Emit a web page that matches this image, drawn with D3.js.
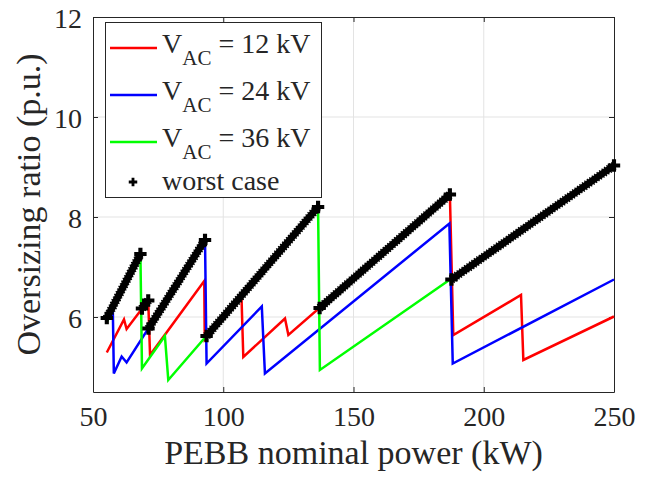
<!DOCTYPE html>
<html>
<head>
<meta charset="utf-8">
<script src="https://cdn.jsdelivr.net/npm/d3@7"></script>
<style>
  body { margin: 0; background: #fff; }
  svg text { font-family: "Liberation Serif", "Times New Roman", serif !important; fill: #262626; }
</style>
</head>
<body>
<div id="chart"></div>
<script>
// oversizing ratio vs PEBB power
const p12 = [55.3, 61.9, 62.9, 71.2, 71.9, 92.7, 92.9, 107.0, 107.7, 123.7, 125.0, 187.0, 188.3, 214.3, 215.2, 250];
const r12 = [5.29, 5.95, 5.76, 6.33, 5.24, 6.72, 5.55, 6.40, 5.20, 5.97, 5.64, 8.45, 5.64, 6.44, 5.14, 6.01];

const p24 = [55.3, 57.6, 58.0, 61.0, 62.9, 93.0, 93.6, 114.8, 116.0, 186.8, 188.1, 250];
const r24 = [5.98, 6.18, 4.87, 5.21, 5.09, 7.54, 5.07, 6.21, 4.87, 7.87, 5.07, 6.75];

const p36 = [55.3, 68.2, 68.8, 77.6, 78.9, 136.4, 137.1, 250];
const r36 = [5.90, 7.26, 4.97, 5.62, 4.74, 8.20, 4.94, 9.03];

// worst case (max of the three), one pair of end points per segment
const worstStart = [55.3, 68.8, 71.3, 93.6, 137.0, 187.6];
const worstStartVal = [5.98, 6.17, 5.77, 5.62, 6.18, 6.75];
const worstEnd = [68.2, 71.2, 93.0, 136.4, 187.0, 250];
const worstEndVal = [7.26, 6.33, 7.54, 8.20, 8.45, 9.03];

const xTicks = [50, 100, 150, 200, 250];
const yTicks = [6, 8, 10, 12];
const legendLabels = ["12 kV", "24 kV", "36 kV"];
const colors = ["#ff0000", "#0000ff", "#00ff00"];

const width = 654, height = 483;
const mLeft = 93, mRight = 614, mTop = 17, mBottom = 392;
const serif = "'Liberation Serif', 'Times New Roman', serif";

const svg = d3.select("#chart").append("svg")
  .attr("width", width)
  .attr("height", height);

const x = d3.scaleLinear().domain([50, 250]).range([mLeft, mRight]);
const y = d3.scaleLinear().domain([4.5, 12]).range([mBottom, mTop]);

// grid
svg.append("g").selectAll("line")
  .data(xTicks.slice(1, -1))
  .join("line")
  .attr("x1", d => x(d)).attr("x2", d => x(d))
  .attr("y1", mTop).attr("y2", mBottom)
  .attr("stroke", "#e3e3e3").attr("stroke-width", 1);
svg.append("g").selectAll("line")
  .data(yTicks.slice(0, -1))
  .join("line")
  .attr("x1", mLeft).attr("x2", mRight)
  .attr("y1", d => y(d)).attr("y2", d => y(d))
  .attr("stroke", "#e3e3e3").attr("stroke-width", 1);

// axes (box with inward ticks)
const axB = svg.append("g").attr("transform", `translate(0,${mBottom})`)
  .call(d3.axisBottom(x).tickValues(xTicks).tickSizeInner(-5).tickSizeOuter(0).tickPadding(14));
const axT = svg.append("g").attr("transform", `translate(0,${mTop})`)
  .call(d3.axisTop(x).tickValues(xTicks).tickSizeInner(-5).tickSizeOuter(0).tickFormat(""));
const axL = svg.append("g").attr("transform", `translate(${mLeft},0)`)
  .call(d3.axisLeft(y).tickValues(yTicks).tickSizeInner(-5).tickSizeOuter(0).tickPadding(11));
const axR = svg.append("g").attr("transform", `translate(${mRight},0)`)
  .call(d3.axisRight(y).tickValues(yTicks).tickSizeInner(-5).tickSizeOuter(0).tickFormat(""));

[axB, axT, axL, axR].forEach(a => {
  a.attr("font-family", null).attr("font-size", null);
  a.select(".domain").attr("stroke", "#262626").attr("stroke-width", 1);
  a.selectAll(".tick line").attr("stroke", "#262626");
  a.selectAll("text").style("font-family", serif).style("font-size", "28px").attr("fill", "#262626");
});
axB.selectAll("text").attr("dy", "0.71em");
axL.selectAll("text").attr("dy", "0.36em");

// series
const line = d3.line().x(d => x(d[0])).y(d => y(d[1]));
const series = [d3.zip(p12, r12), d3.zip(p24, r24), d3.zip(p36, r36)];

svg.append("g").selectAll("path")
  .data(series)
  .join("path")
  .attr("d", line)
  .attr("fill", "none")
  .attr("stroke", (d, i) => colors[i])
  .attr("stroke-width", 2.5);

// worst case: thick black band of + markers
const worstSegs = worstStart.map((s, i) => [[s, worstStartVal[i]], [worstEnd[i], worstEndVal[i]]]);
svg.append("g").selectAll("path")
  .data(worstSegs)
  .join("path")
  .attr("d", line)
  .attr("fill", "none")
  .attr("stroke", "#000")
  .attr("stroke-width", 7);
svg.append("g").selectAll("path")
  .data(worstSegs)
  .join("path")
  .attr("d", line)
  .attr("fill", "none")
  .attr("stroke", "#000")
  .attr("stroke-width", 9)
  .attr("stroke-dasharray", "1.3,1.7");

const cross = d3.symbol().type(d3.symbolCross).size(85);
svg.append("g").selectAll("path")
  .data(worstSegs.flat())
  .join("path")
  .attr("d", cross)
  .attr("transform", d => `translate(${x(d[0])},${y(d[1])})`)
  .attr("fill", "#000");

// legend
const lg = svg.append("g");
lg.append("rect")
  .attr("x", 105.5).attr("y", 22.5)
  .attr("width", 216).attr("height", 175)
  .attr("fill", "#fff").attr("stroke", "#262626").attr("stroke-width", 1);

const rowY = [48, 95, 142];
legendLabels.forEach((lab, i) => {
  lg.append("line")
    .attr("x1", 110).attr("x2", 157)
    .attr("y1", rowY[i]).attr("y2", rowY[i])
    .attr("stroke", colors[i]).attr("stroke-width", 2.5);
  const t = lg.append("text")
    .attr("x", 162).attr("y", rowY[i] + 5)
    .style("font-family", serif)
    .style("font-size", "28px");
  t.append("tspan").text("V");
  t.append("tspan").attr("dy", 12).style("font-size", "21px").text("AC");
  t.append("tspan").attr("dy", -12).text(" = " + lab);
});
lg.append("path")
  .attr("d", d3.symbol().type(d3.symbolCross).size(40))
  .attr("transform", "translate(133,182)")
  .attr("fill", "#000");
lg.append("text")
  .attr("x", 162).attr("y", 190)
  .style("font-family", serif)
  .style("font-size", "28px")
  .text("worst case");

// axis titles
svg.append("text")
  .attr("x", (mLeft + mRight) / 2).attr("y", 464)
  .attr("text-anchor", "middle")
  .style("font-family", serif)
  .style("font-size", "34px")
  .text("PEBB nominal power (kW)");
svg.append("text")
  .attr("transform", `translate(40,${(mTop + mBottom) / 2}) rotate(-90)`)
  .attr("text-anchor", "middle")
  .style("font-family", serif)
  .style("font-size", "34px")
  .text("Oversizing ratio (p.u.)");
</script>
</body>
</html>
